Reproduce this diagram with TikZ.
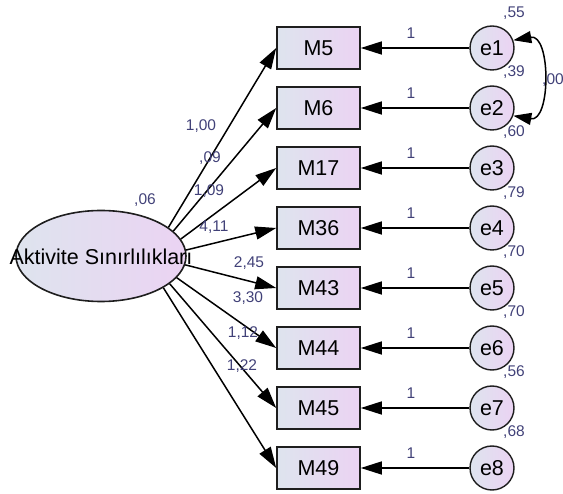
\documentclass[tikz,border=0pt]{standalone}
\usepackage{fontspec}
\setmainfont{Liberation Sans}
\usetikzlibrary{shapes.geometric,arrows.meta,positioning}
\definecolor{lblue}{RGB}{222,228,238}
\definecolor{lpink}{RGB}{235,211,243}
\definecolor{estc}{RGB}{65,65,120}
\definecolor{edgec}{RGB}{30,30,30}

\begin{document}
\begin{tikzpicture}[x=1pt,y=-1pt,
        obs/.style = {draw=edgec, line width=1.6pt, rectangle, left color=lblue, right color=lpink, minimum width=83pt, minimum height=42pt, inner sep=0pt, font=\fontsize{21.5}{23}\selectfont},
        err/.style = {draw=edgec, line width=1.4pt, circle, left color=lblue, right color=lpink, minimum size=44pt, inner sep=0pt, font=\fontsize{21.5}{23}\selectfont},
        lat/.style = {draw=edgec, line width=1.6pt, ellipse, left color=lblue, right color=lpink, minimum width=170pt, minimum height=91pt, inner sep=0pt},
        est/.style = {text=estc, font=\fontsize{15.5}{17}\selectfont, inner sep=0pt},
        load/.style = {line width=1.5pt, -{Triangle[length=21pt,width=13pt]}},
        cov/.style = {line width=1.5pt, {Triangle[length=18pt,width=12pt]}-{Triangle[length=18pt,width=12pt]}},
        node distance={60pt}]
        \useasboundingbox (0,0) rectangle (563,494);
        % latent variable
        \node[lat] (AS) at (101,256) {};
        \node[font=\fontsize{21.5}{23}\selectfont, inner sep=0pt] (AStext) at (101,257) {Aktivite Sınırlılıkları};
        \node[est] (v0) at (145,200) {,06};
        % observed items
        \node[obs] (M5) at (318.5,48) {M5};
        \node[obs] (M6) [below of=M5] {M6};
        \node[obs] (M17) [below of=M6] {M17};
        \node[obs] (M36) [below of=M17] {M36};
        \node[obs] (M43) [below of=M36] {M43};
        \node[obs] (M44) [below of=M43] {M44};
        \node[obs] (M45) [below of=M44] {M45};
        \node[obs] (M49) [below of=M45] {M49};
        % error terms
        \node[err] (e1) at (492,48) {e1};
        \node[err] (e2) [below of=e1] {e2};
        \node[err] (e3) [below of=e2] {e3};
        \node[err] (e4) [below of=e3] {e4};
        \node[err] (e5) [below of=e4] {e5};
        \node[err] (e6) [below of=e5] {e6};
        \node[err] (e7) [below of=e6] {e7};
        \node[err] (e8) [below of=e7] {e8};
        % loadings
        \draw[load] (AS.23) -- (M5.west);
        \draw[load] (AS.19) -- (M6.west);
        \draw[load] (AS.12) -- (M17.west);
        \draw[load] (AS.4) -- (M36.west);
        \draw[load] (AS.-6) -- (M43.west);
        \draw[load] (AS.-16) -- (M44.west);
        \draw[load] (AS.-22) -- (M45.west);
        \draw[load] (AS.-27) -- (M49.west);
        \node[est] (l1) at (201,126) {1,00};
        \node[est] (l2) at (210,158) {,09};
        \node[est] (l3) at (209,191) {1,09};
        \node[est] (l4) at (214,227) {4,11};
        \node[est] (l5) at (249,263) {2,45};
        \node[est] (l6) at (248,298) {3,30};
        \node[est] (l7) at (243,333) {1,12};
        \node[est] (l8) at (242,366) {1,22};
        % error paths
        \draw[load] (e1) -- (M5);
        \draw[load] (e2) -- (M6);
        \draw[load] (e3) -- (M17);
        \draw[load] (e4) -- (M36);
        \draw[load] (e5) -- (M43);
        \draw[load] (e6) -- (M44);
        \draw[load] (e7) -- (M45);
        \draw[load] (e8) -- (M49);
        \node[est] (f1) at (411,33) {1};
        \node[est] (f2) at (411,93) {1};
        \node[est] (f3) at (411,153) {1};
        \node[est] (f4) at (411,213) {1};
        \node[est] (f5) at (411,273) {1};
        \node[est] (f6) at (411,333) {1};
        \node[est] (f7) at (411,393) {1};
        \node[est] (f8) at (411,453) {1};
        % variances
        \node[est] (s1) at (514,13) {,55};
        \node[est] (s2) at (514,72) {,39};
        \node[est] (s3) at (514,132) {,60};
        \node[est] (s4) at (514,193) {,79};
        \node[est] (s5) at (514,252) {,70};
        \node[est] (s6) at (514,312) {,70};
        \node[est] (s7) at (514,372) {,56};
        \node[est] (s8) at (514,432) {,68};
        % covariance
        \draw[cov] (e1.20) to[out=10,in=-10,looseness=1.3] (e2.-20);
        \node[est, anchor=west] (c12) at (542,80) {,00};
\end{tikzpicture}
\end{document}
